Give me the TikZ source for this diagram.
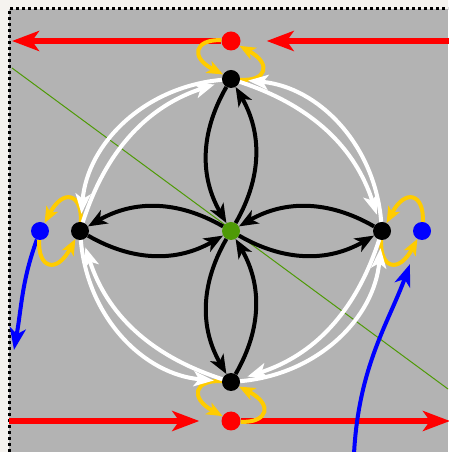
\documentclass[tikz,border=0pt]{standalone}
\usepackage{tikz}
\usetikzlibrary{arrows.meta,positioning,backgrounds}
\definecolor{pbg}{RGB}{179,179,179}
\definecolor{ppage}{RGB}{245,243,239}
\definecolor{pgreen}{RGB}{78,154,6}
\definecolor{pyellow}{RGB}{255,204,0}
\definecolor{pred}{RGB}{255,0,0}
\definecolor{pblue}{RGB}{0,0,255}
\tikzset{
  junction/.style={circle,fill=black,minimum size=18pt,inner sep=0pt},
  core/.style={circle,fill=pgreen,minimum size=18pt,inner sep=0pt},
  gate/.style={circle,fill=pred,minimum size=19pt,inner sep=0pt},
  port/.style={circle,fill=pblue,minimum size=18pt,inner sep=0pt},
  spoke/.style={-{Stealth[length=19pt,width=15pt,inset=5pt]},line width=4pt,black,bend right=30},
  ringin/.style={-{Stealth[length=20pt,width=15pt,inset=5pt]},line width=4pt,white,
                 shorten >=8pt,bend left=27},
  ringout/.style={-{Stealth[length=20pt,width=15pt,inset=5pt]},line width=4pt,white,
                  shorten >=8pt,bend right=40},
  hop/.style={-{Stealth[length=16pt,width=13pt,inset=4pt]},line width=4pt,pyellow,
              out=-95,in=-120,relative,out looseness=2,in looseness=2.8},
  flow/.style={-{Stealth[length=27pt,width=20pt,inset=7pt]},line width=5.5pt,pred},
  feed/.style={-{Stealth[length=22pt,width=16pt,inset=6pt]},line width=4pt,pblue},
}

\begin{document}
\begin{tikzpicture}[x=1pt,y=1pt]
  \useasboundingbox (0,0) rectangle (448,452);
  % hub and its four junctions
  \node[core]     (g)  at (231,221) {};
  \node[junction] (t)  at (231,373) {};
  \node[junction] (b)  at (231,70)  {};
  \node[junction] (l)  at (80,221)  {};
  \node[junction] (r)  at (382,221) {};
  % outer gates and ports
  \node[gate] (st) at (231,411) {};
  \node[gate] (sb) at (231,31)  {};
  \node[port] (pl) at (40,221)  {};
  \node[port] (pr) at (422,221) {};
  % free ends
  \coordinate (inE)   at (452,411);
  \coordinate (outW)  at (12,411);
  \coordinate (inW)   at (9,31);
  \coordinate (outE)  at (450,31);
  \coordinate (dropW) at (14,102);
  \coordinate (riseS) at (354,-2);
  \coordinate (gA)    at (12,384);
  \coordinate (gB)    at (448,63);
  % canvas
  \begin{scope}[on background layer]
    \fill[ppage] (0,0) rectangle (448,452);
    \fill[pbg] (9,0) rectangle (448,443);
    \draw[black,line width=3pt,dash pattern=on 3pt off 3pt] (9,0) -- (9,443) -- (448,443);
    \draw[pgreen,line width=1pt] (gA) -- (gB);
  \end{scope}
  % red through-lines
  \draw[flow,shorten >=26pt] (inE) -- (st);
  \draw[flow] (st) -- (outW);
  \draw[flow,shorten >=22pt] (inW) -- (sb);
  \draw[flow] (sb) -- (outE);
  % blue feeds
  \draw[feed] (pl) to[out=-110,in=80] (dropW);
  \draw[feed,shorten >=26pt] (riseS) to[out=87,in=-110] (pr);
  % yellow hops between neighbours
  \foreach \u/\v in {st/t,l/pl,pr/r,b/sb} {
    \draw[hop] (\u) to (\v);
    \draw[hop] (\v) to (\u);
  }
  % white ring, inner clockwise and outer counter-clockwise
  \foreach \u/\v in {t/r,r/b,b/l,l/t} {
    \draw[ringin]  (\u) to (\v);
    \draw[ringout] (\v) to (\u);
  }
  % black spokes
  \foreach \a in {t,l,b,r} {
    \draw[spoke] (g) to (\a);
    \draw[spoke] (\a) to (g);
  }
\end{tikzpicture}
\end{document}
